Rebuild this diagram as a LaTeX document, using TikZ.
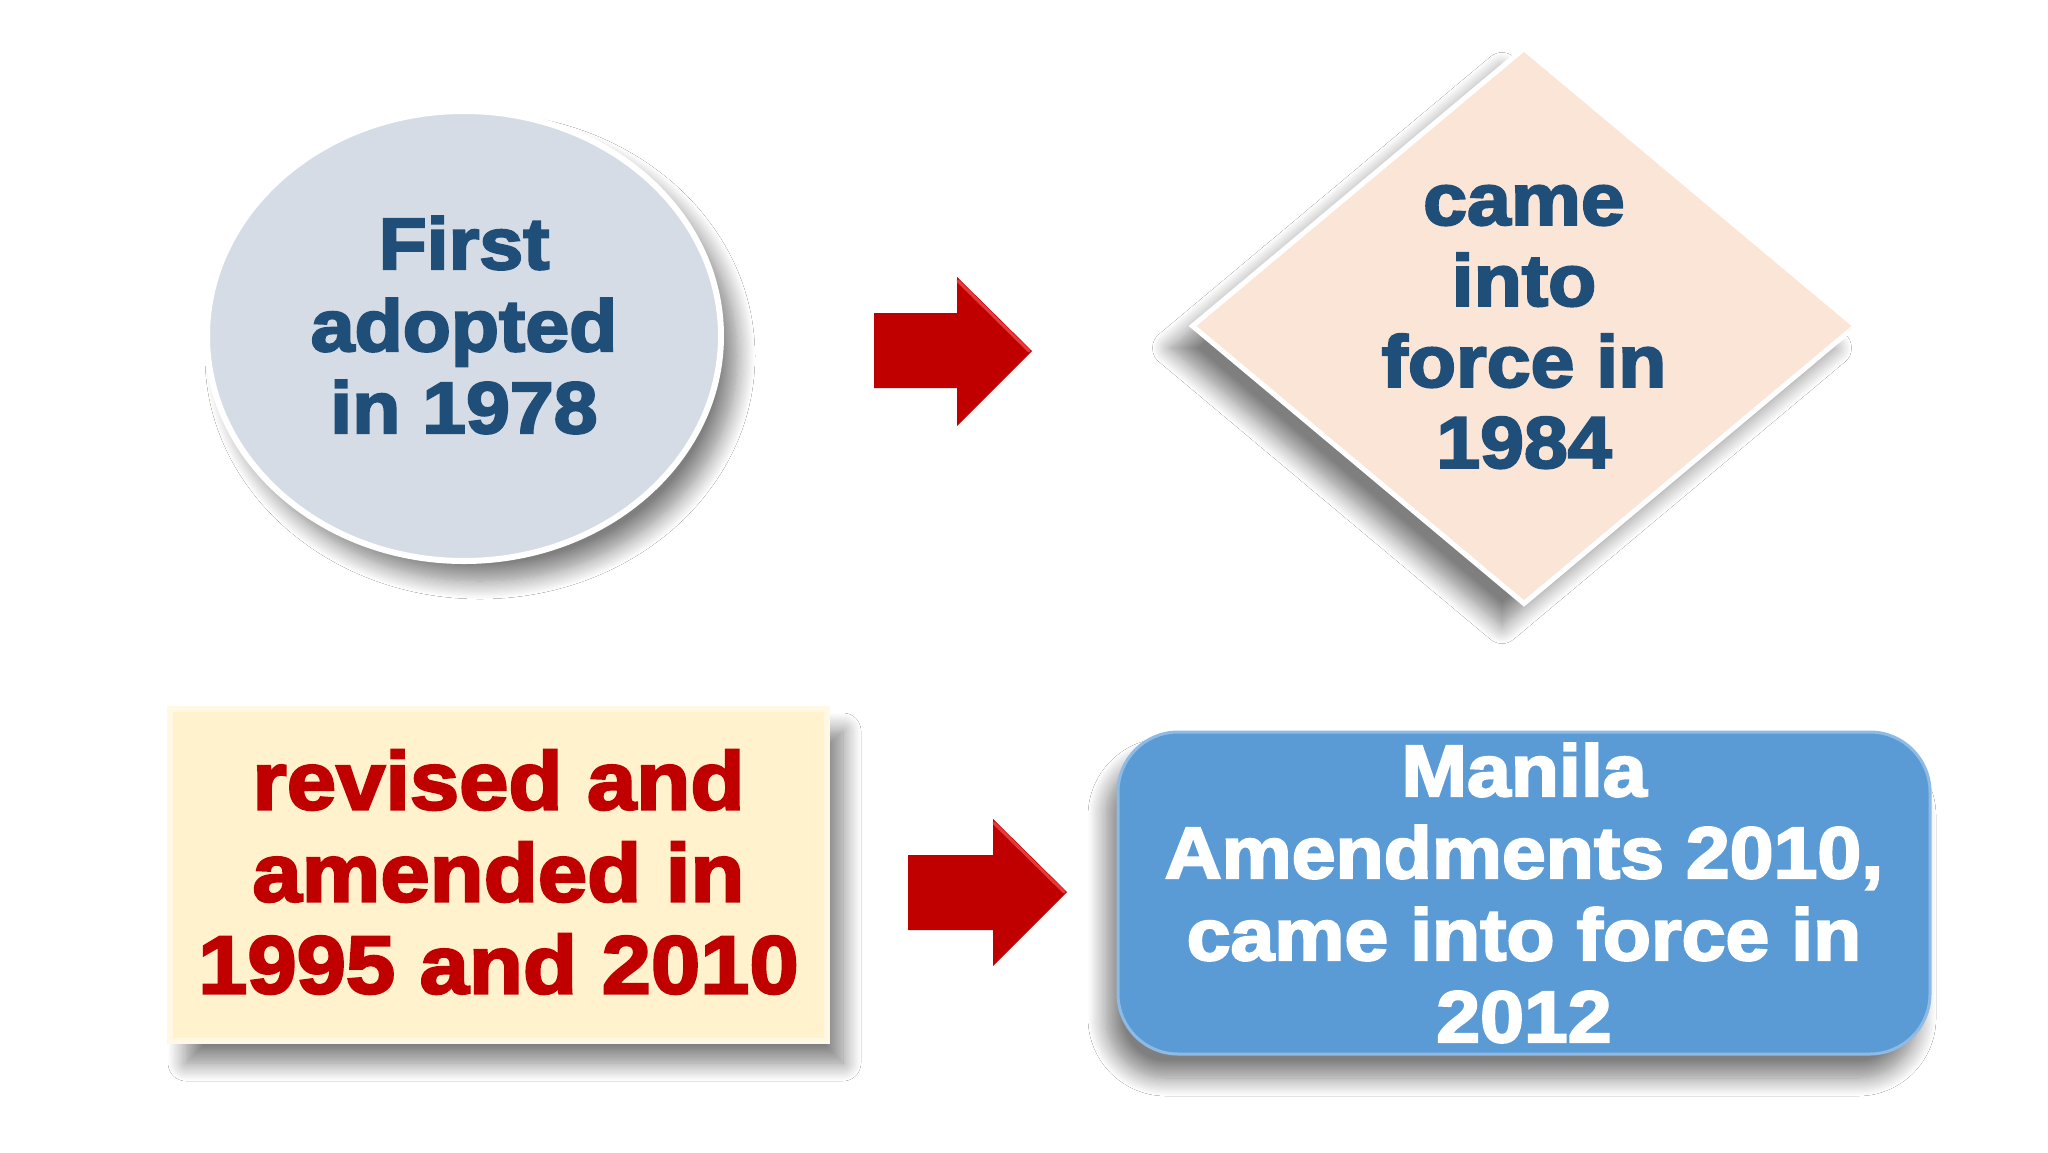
\documentclass[tikz,border=0pt]{standalone}
\usepackage{fontspec}
\newfontfamily\heavy{Liberation Sans}[FakeStretch=1.08, BoldFeatures={FakeBold=3}]
\usetikzlibrary{shapes.geometric,shadows.blur}
\definecolor{navy}{HTML}{1F4E79}
\definecolor{darkred}{HTML}{C00000}
\definecolor{litred}{HTML}{E8393A}
\definecolor{ellgray}{HTML}{D6DCE5}
\definecolor{peach}{HTML}{FBE5D6}
\definecolor{cream}{HTML}{FFF2CC}
\definecolor{creamedge}{HTML}{FFF8E2}
\definecolor{blue}{HTML}{5B9BD5}
\definecolor{blueedge}{HTML}{8DBBE6}
\begin{document}
\begin{tikzpicture}[x=1pt,y=-1pt,
  txt/.style={font=\heavy\bfseries\fontsize{73}{82}\selectfont, align=center, inner sep=0pt},
  shad/.style 2 args={blur shadow={shadow xshift=#1, shadow yshift=#2, shadow blur radius=18pt, shadow blur steps=16, shadow opacity=50}},
  blockarrow/.style={fill=darkred},
  hilite/.style={draw=litred, line width=3pt, line cap=round}
]
\fill[white] (0,0) rectangle (2048,1152);
\path[use as bounding box] (0,0) rectangle (2048,1152);

% ellipse
\node[ellipse, minimum width=514pt, minimum height=450pt, inner sep=0pt,
      fill=ellgray, draw=white, line width=6pt, shad={16pt}{-20pt}] (ell) at (464,336) {};
\node[txt, text=navy] (t1) at (464,325) {First\\adopted\\in 1978};

% diamond
\node[diamond, minimum width=665pt, minimum height=557pt, inner sep=0pt, aspect=1,
      fill=peach, draw=white, line width=5pt, shad={-22pt}{-22pt}] (dia) at (1524,326) {};
\node[txt, text=navy, font=\heavy\bfseries\fontsize{73}{81}\selectfont] (t2) at (1524,327) {came\\into\\force in\\1984};

% rectangle
\node[rectangle, minimum width=657pt, minimum height=332pt, inner sep=0pt,
      fill=cream, draw=creamedge, line width=6pt, shad={16pt}{-22pt}] (rect) at (498.5,875) {};
\node[txt, text=darkred, font=\heavy\bfseries\fontsize{82}{92}\selectfont] (t3) at (498.5,872) {revised and\\amended in\\1995 and 2010};

% rounded rectangle
\node[rectangle, rounded corners=60pt, minimum width=812pt, minimum height=322pt, inner sep=0pt,
      fill=blue, draw=blueedge, line width=3pt, shad={-12pt}{-24pt}] (rrect) at (1524,893) {};
\node[txt, text=white] (t4) at (1524,893) {Manila\\Amendments 2010,\\came into force in\\2012};

% block arrows
\path[blockarrow] (874,313) -- (957,313) -- (957,277) -- (1032,351) -- (957,426) -- (957,388) -- (874,388) -- cycle;
\path[hilite] (958,281) -- (1029,351);
\path[blockarrow] (908,855) -- (993,855) -- (993,819) -- (1067,892) -- (993,966) -- (993,930) -- (908,930) -- cycle;
\path[hilite] (994,823) -- (1064,892);
\end{tikzpicture}
\end{document}
